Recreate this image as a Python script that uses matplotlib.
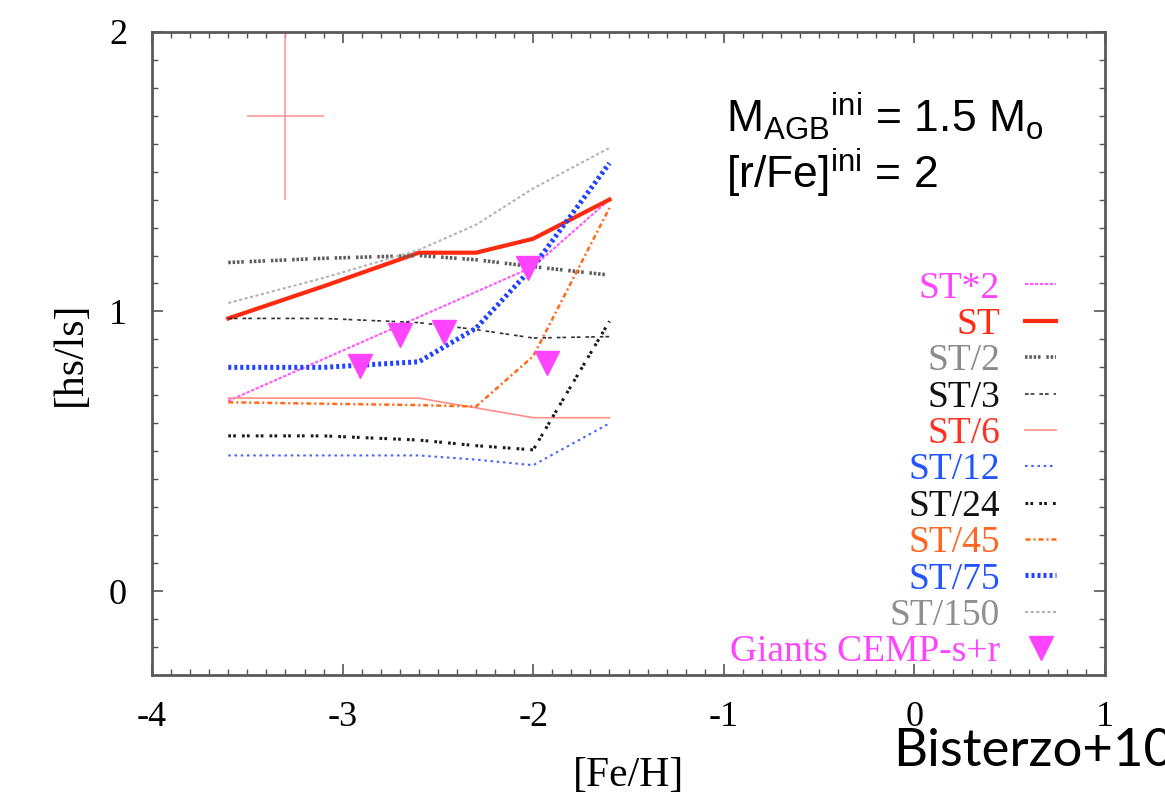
import matplotlib
matplotlib.use('Agg')
import matplotlib.pyplot as plt
from matplotlib.ticker import MultipleLocator

plt.rcParams['font.family'] = ['Liberation Serif', 'DejaVu Serif']
plt.rcParams['mathtext.fontset'] = 'custom'
plt.rcParams['mathtext.rm'] = 'Liberation Sans'
plt.rcParams['mathtext.it'] = 'Liberation Sans'
plt.rcParams['axes.unicode_minus'] = False

# [Fe/H] grid of the AGB models
feh = [-3.6, -3.1, -2.6, -2.3, -2.0, -1.6]

# [hs/ls] predictions for each 13C-pocket case
st_x2 = [0.68, 0.83, 0.98, 1.07, 1.16, 1.40]
st = [0.975, 1.09, 1.21, 1.21, 1.26, 1.40]
st_2 = [1.175, 1.19, 1.20, 1.185, 1.16, 1.13]
st_3 = [0.975, 0.975, 0.96, 0.935, 0.905, 0.91]
st_6 = [0.69, 0.69, 0.69, 0.655, 0.62, 0.62]
st_12 = [0.485, 0.485, 0.485, 0.47, 0.45, 0.60]
st_24 = [0.555, 0.555, 0.54, 0.52, 0.505, 0.965]
st_45 = [0.675, 0.67, 0.665, 0.66, 0.84, 1.37]
st_75 = [0.80, 0.80, 0.82, 0.94, 1.16, 1.53]
st_150 = [1.03, 1.12, 1.22, 1.31, 1.44, 1.585]

# CEMP-s+r giants
giants_feh = [-2.91, -2.70, -2.47, -2.03, -1.93]
giants_hsls = [0.805, 0.915, 0.925, 1.155, 0.815]

# typical uncertainty
err_feh, err_hsls = -3.3, 1.7
err_dx, err_dy = 0.2, 0.3

fig = plt.figure(figsize=(11.65, 7.95), dpi=100)
ax = fig.add_axes([0.1305, 0.151, 0.818, 0.809])

ax.errorbar(err_feh, err_hsls, xerr=err_dx, yerr=err_dy, fmt='none',
            ecolor='#ff9a9a', elinewidth=1.2, capsize=0)

curves = [
    ('ST*2', st_x2, dict(color='#ff55ff', lw=1.5, dashes=(1.6, 0.8)), '#ff44ff'),
    ('ST', st, dict(color='#ff2a10', lw=3.0), '#ff2a10'),
    ('ST/2', st_2, dict(color='#5e5e5e', lw=2.6, dashes=(0.7, 0.5, 0.7, 0.5, 0.7, 0.5, 0.7, 1.6)), '#8c8c8c'),
    ('ST/3', st_3, dict(color='#303030', lw=1.2, dashes=(2.2, 1.2, 2.2, 3.0)), '#111111'),
    ('ST/6', st_6, dict(color='#ff9088', lw=1.2), '#ff3322'),
    ('ST/12', st_12, dict(color='#4466ff', lw=1.5, dashes=(1.2, 1.8)), '#2255ff'),
    ('ST/24', st_24, dict(color='#1a1a1a', lw=2.2, dashes=(0.9, 0.7, 0.9, 2.0)), '#111111'),
    ('ST/45', st_45, dict(color='#ff6a1a', lw=1.8, dashes=(2.0, 1.2, 0.8, 1.2)), '#ff6622'),
    ('ST/75', st_75, dict(color='#2244ff', lw=3.6, dashes=(0.6, 0.6)), '#2255ff'),
    ('ST/150', st_150, dict(color='#b4b4b4', lw=1.5, dashes=(1.5, 1.2)), '#909090'),
]

handles = []
label_colors = []
for name, vals, style, tcol in curves:
    line, = ax.plot(feh, vals, label=name, **style)
    handles.append(line)
    label_colors.append(tcol)

tri, = ax.plot(giants_feh, giants_hsls, 'v', color='#ff44ff', ms=17,
               label='Giants CEMP-s+r', zorder=5)
handles.append(tri)
label_colors.append('#ff44ff')

leg = ax.legend(handles=handles, loc='lower right', bbox_to_anchor=(0.955, 0.0),
                frameon=False, markerfirst=False, fontsize=27,
                handlelength=0.85, handletextpad=0.65, labelspacing=0.05,
                borderpad=0.15, borderaxespad=0.0, labelcolor=label_colors,
                numpoints=1)

ax.text(-0.99, 1.64, r'M$_{\rm AGB}{}^{\rm ini}$ = 1.5 M$_{\rm o}$',
        family='Liberation Sans', fontsize=32, va='baseline')
ax.text(-0.99, 1.44, r'[r/Fe]$^{\rm ini}$ = 2',
        family='Liberation Sans', fontsize=32, va='baseline')

ax.set_xlim(-4, 1)
ax.set_ylim(-0.3, 2)
ax.xaxis.set_major_locator(MultipleLocator(1))
ax.xaxis.set_minor_locator(MultipleLocator(0.1))
ax.yaxis.set_major_locator(MultipleLocator(1))
ax.yaxis.set_minor_locator(MultipleLocator(0.1))
ax.tick_params(which='both', direction='in', top=True, right=True,
               color='#555555', labelsize=26)
ax.tick_params(which='major', length=8, width=1.2)
ax.tick_params(which='minor', length=4, width=1.0)
ax.tick_params(axis='x', pad=19)
ax.tick_params(axis='y', pad=18)
for sp in ax.spines.values():
    sp.set_color('#5a5a5a')
    sp.set_linewidth(2)

ax.set_xlabel('[Fe/H]', fontsize=30, labelpad=16)
ax.set_ylabel('[hs/ls]', fontsize=30, labelpad=14)

fig.text(0.7665, 0.037, 'Bisterzo+10', family='Lato', fontsize=38,
         va='baseline', ha='left')

fig.savefig('out.png', dpi=100)
